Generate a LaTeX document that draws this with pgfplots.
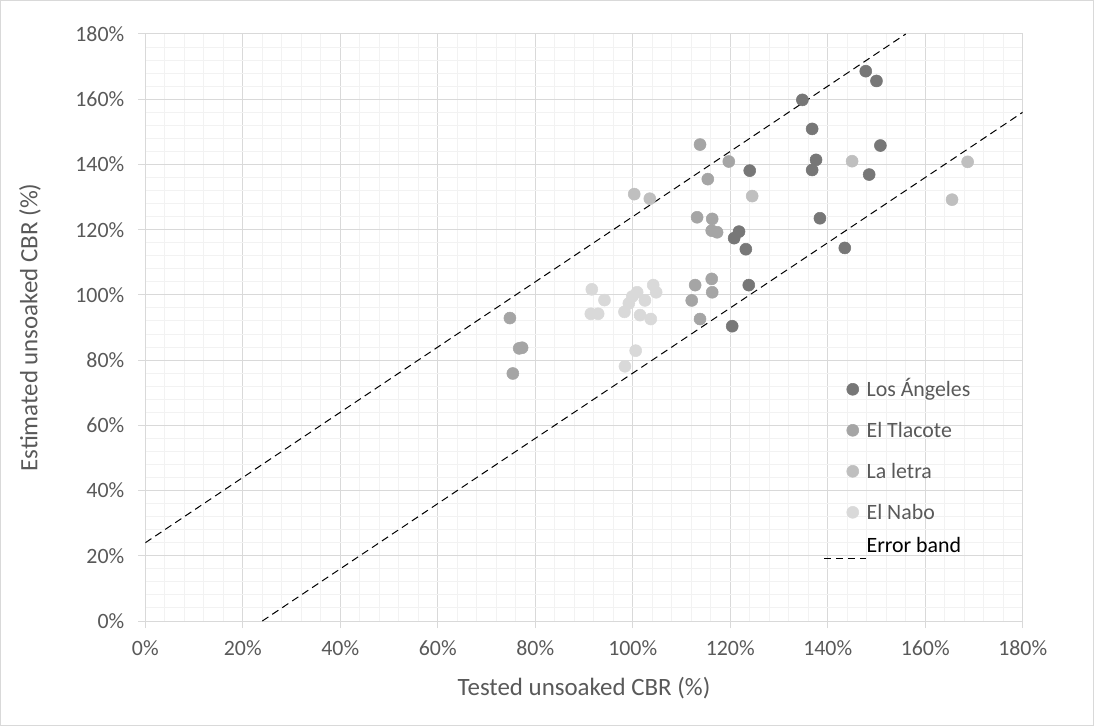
\documentclass[border=0pt]{standalone}
\usepackage{pgfplots}
\pgfplotsset{compat=1.18}
\usepackage{fontspec}
\setmainfont{Carlito}
\definecolor{txt}{HTML}{595959}
\definecolor{majgrid}{HTML}{D9D9D9}
\definecolor{mingrid}{HTML}{F2F2F2}
\definecolor{cA}{HTML}{777777}
\definecolor{cB}{HTML}{A5A5A5}
\definecolor{cC}{HTML}{BFBFBF}
\definecolor{cD}{HTML}{D9D9D9}
\pgfplotsset{
  dotlegend/.style={legend image code/.code={\draw[##1] plot coordinates {(0pt,0pt)};}},
  dashlegend/.style={legend image code/.code={\draw[##1] (-21.5pt,-4pt) -- (10pt,-4pt);}},
}
\pgfplotstableread{
x y
147.8 168.6
150.0 165.6
134.8 159.8
136.8 150.9
150.8 145.8
137.6 141.4
136.8 138.3
148.5 136.9
124.0 138.1
138.4 123.5
121.8 119.4
120.8 117.4
123.2 114.0
143.5 114.4
123.8 103.0
120.4 90.4
}\losangeles
\pgfplotstableread{
x y
113.8 146.1
119.7 140.9
115.4 135.5
113.2 123.8
116.3 123.3
116.2 119.7
117.3 119.2
112.8 103.0
116.2 104.9
116.3 100.8
112.1 98.3
113.8 92.6
74.8 92.9
76.7 83.6
77.3 83.8
75.4 75.9
}\tlacote
\pgfplotstableread{
x y
100.3 130.9
103.5 129.5
124.5 130.3
145.0 141.0
168.7 140.8
165.5 129.2
}\laletra
\pgfplotstableread{
x y
91.6 101.7
94.2 98.4
91.4 94.2
92.9 94.2
100.9 100.8
99.9 99.5
99.2 97.4
98.3 94.8
102.5 98.3
101.5 93.8
103.7 92.6
104.2 103.0
104.8 100.8
100.6 82.9
98.4 78.1
}\nabo
\begin{document}
\begin{tikzpicture}
\begin{axis}[
  scale only axis, width=658.05pt, height=440.25pt,
  xmin=0, xmax=180, ymin=0, ymax=180,
  xtick={0,20,...,180}, ytick={0,20,...,180},
  minor tick num=4,
  grid=both,
  major grid style={draw=majgrid, line width=0.75pt},
  minor grid style={draw=mingrid, line width=0.75pt},
  axis line style={draw=majgrid, line width=0.75pt},
  tick align=outside,
  major tick length=5.25pt, minor tick length=0pt,
  tick style={draw=majgrid, line width=0.75pt},
  xtick pos=left, ytick pos=left,
  /pgf/number format/assume math mode=true,
  xticklabel={\pgfmathprintnumber{\tick}\%},
  yticklabel={\pgfmathprintnumber{\tick}\%},
  tick label style={font=\fontsize{16.4}{19}\selectfont, text=txt},
  xticklabel style={yshift=-6pt},
  yticklabel style={xshift=-7pt},
  xlabel={Tested unsoaked CBR (\%)},
  ylabel={Estimated unsoaked CBR (\%)},
  label style={font=\fontsize{18.7}{22}\selectfont, text=txt},
  xlabel style={at={(axis description cs:0.5,-0.1261)}, anchor=base},
  ylabel style={at={(axis description cs:-0.1313,0.5)}, anchor=center},
  legend cell align=left,
  legend style={at={(axis cs:139.15,74.85)}, anchor=north west, draw=none, fill=none,
    inner sep=0pt, outer sep=0pt, row sep=12.2pt, column sep=0pt,
    font=\fontsize{16.4}{19}\selectfont, text=txt,
    nodes={inner sep=0pt, text height=14.56pt, text depth=4pt}},
]
\addplot[only marks, mark=*, mark size=4.5pt, color=cA, mark options={draw=cA, fill=cA}, dotlegend] table[x=x,y=y] {\losangeles};
\addlegendentry{Los Ángeles}
\addplot[only marks, mark=*, mark size=4.5pt, color=cB, mark options={draw=cB, fill=cB}, dotlegend] table[x=x,y=y] {\tlacote};
\addlegendentry{El Tlacote}
\addplot[only marks, mark=*, mark size=4.5pt, color=cC, mark options={draw=cC, fill=cC}, dotlegend] table[x=x,y=y] {\laletra};
\addlegendentry{La letra}
\addplot[only marks, mark=*, mark size=4.5pt, color=cD, mark options={draw=cD, fill=cD}, dotlegend] table[x=x,y=y] {\nabo};
\addlegendentry{El Nabo}
\addplot[black, line width=0.75pt, dash pattern=on 5.5pt off 3.5pt, dashlegend] coordinates {(0,24) (156,180)};
\addlegendentry{\textcolor{black}{\raisebox{5.7pt}{Error band}}}
\addplot[black, line width=0.75pt, dash pattern=on 5.5pt off 3.5pt, forget plot] coordinates {(24,0) (180,156)};
\end{axis}
\pgfresetboundingbox
\path[use as bounding box] (-108.975pt,-78.75pt) rectangle (711.525pt,465.75pt);
\draw[majgrid, line width=0.75pt] (-108.6pt,-78.4pt) rectangle (711.15pt,465.4pt);
\end{tikzpicture}
\end{document}
